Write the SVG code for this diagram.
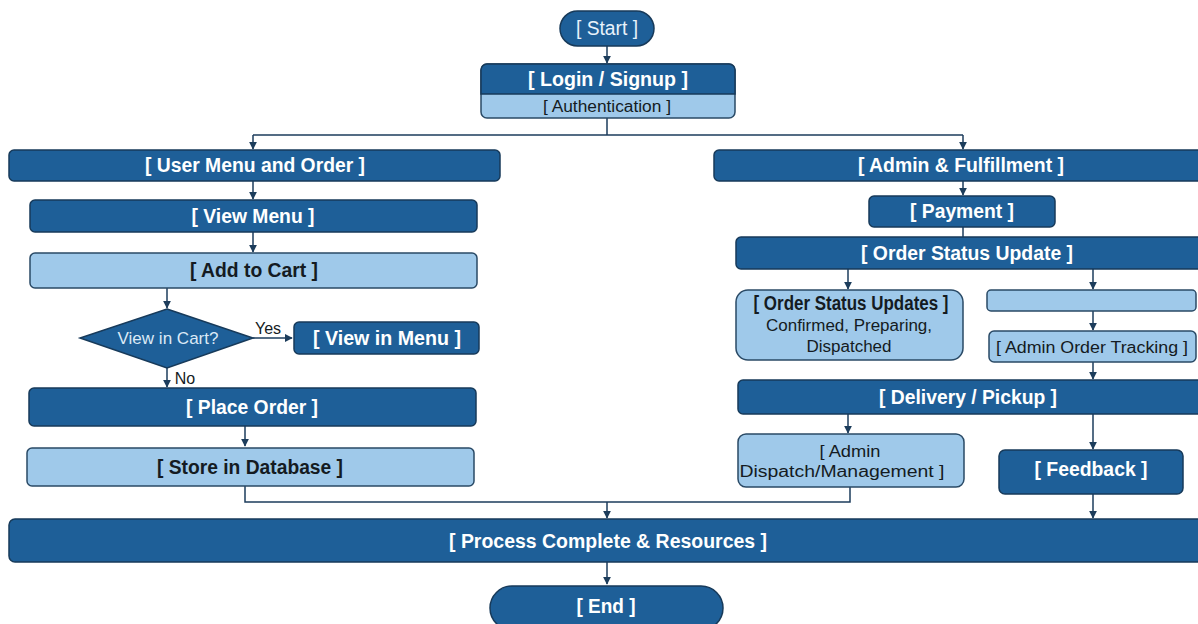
<svg xmlns="http://www.w3.org/2000/svg" width="1198" height="624" viewBox="0 0 1198 624">
<defs>
<style>
.d{fill:#1e5f98;stroke:#173a5a;stroke-width:1.5}
.l{fill:#9fc9ea;stroke:#2a4a66;stroke-width:1.5}
.t{font-family:"Liberation Sans",Arial,sans-serif;dominant-baseline:central;text-anchor:middle}
.w{fill:#ffffff;font-weight:bold;font-size:20px}
.k{fill:#141b22;font-weight:bold;font-size:20px}
.n{fill:#141b22;font-size:16px}
.e{fill:none;stroke:#1d3d5c;stroke-width:1.5}
.lb{font-family:"Liberation Sans",Arial,sans-serif;font-size:16px;fill:#141b22}
</style>
<marker id="a" viewBox="0 0 10 10" refX="9" refY="5" markerWidth="8" markerHeight="8" markerUnits="userSpaceOnUse" orient="auto">
<path d="M0,0 L10,5 L0,10 z" fill="#1d3d5c"/>
</marker>
</defs>
<rect width="1198" height="624" fill="#ffffff"/>
<g id="connectors">
<path class="e" d="M607,46 V63" marker-end="url(#a)"/>
<path class="e" d="M607,118 V135 M253,135 H963"/>
<path class="e" d="M253,135 V149" marker-end="url(#a)"/>
<path class="e" d="M963,135 V149" marker-end="url(#a)"/>
<path class="e" d="M253,181 V199" marker-end="url(#a)"/>
<path class="e" d="M253,232 V252" marker-end="url(#a)"/>
<path class="e" d="M167,288 V308" marker-end="url(#a)"/>
<path class="e" d="M253,338 H292" marker-end="url(#a)"/>
<path class="e" d="M167,368 V387" marker-end="url(#a)"/>
<path class="e" d="M245,426 V446" marker-end="url(#a)"/>
<path class="e" d="M245,486 V502 H850 V487"/>
<path class="e" d="M607,502 V518" marker-end="url(#a)"/>
<path class="e" d="M963,181 V195" marker-end="url(#a)"/>
<path class="e" d="M963,227 V237"/>
<path class="e" d="M848,269 V289" marker-end="url(#a)"/>
<path class="e" d="M1093,269 V289" marker-end="url(#a)"/>
<path class="e" d="M1093,311 V330" marker-end="url(#a)"/>
<path class="e" d="M1093,362 V379" marker-end="url(#a)"/>
<path class="e" d="M848,414 V433" marker-end="url(#a)"/>
<path class="e" d="M1093,414 V449" marker-end="url(#a)"/>
<path class="e" d="M1093,494 V518" marker-end="url(#a)"/>
<path class="e" d="M607,562 V584" marker-end="url(#a)"/>
<text class="lb" x="268" y="328" text-anchor="middle" dominant-baseline="central">Yes</text>
<text class="lb" x="185" y="378" text-anchor="middle" dominant-baseline="central">No</text>
</g>
<g id="start">
<rect class="d" x="560" y="11" width="94" height="35" rx="17.5"/>
<text class="t" x="607" y="28" fill="#e8f2fb" font-size="20" textLength="62" lengthAdjust="spacingAndGlyphs">[ Start ]</text>
</g>
<g id="login">
<rect class="l" x="481" y="64" width="254" height="54" rx="6"/>
<path class="d" d="M481,94 V70 a6,6 0 0 1 6,-6 H729 a6,6 0 0 1 6,6 V94 Z"/>
<text class="t w" x="608" y="79" font-size="21" textLength="160" lengthAdjust="spacingAndGlyphs">[ Login / Signup ]</text>
<text class="t n" x="607" y="106" textLength="128" lengthAdjust="spacingAndGlyphs">[ Authentication ]</text>
</g>
<g id="user-menu">
<rect class="d" x="9" y="150" width="491" height="31" rx="5"/>
<text class="t w" x="255" y="165" textLength="220" lengthAdjust="spacingAndGlyphs">[ User Menu and Order ]</text>
</g>
<g id="view-menu">
<rect class="d" x="30" y="200" width="447" height="32" rx="5"/>
<text class="t w" x="253" y="216" textLength="123" lengthAdjust="spacingAndGlyphs">[ View Menu ]</text>
</g>
<g id="add-cart">
<rect class="l" x="30" y="253" width="447" height="35" rx="5"/>
<text class="t k" x="254" y="270" textLength="128" lengthAdjust="spacingAndGlyphs">[ Add to Cart ]</text>
</g>
<g id="decision">
<polygon class="d" points="167,309 253,338 167,368 80,338"/>
<text class="t" x="168" y="338" fill="#dbe9f6" font-size="17" textLength="101" lengthAdjust="spacingAndGlyphs">View in Cart?</text>
</g>
<g id="view-in-menu">
<rect class="d" x="294" y="322" width="185" height="32" rx="5"/>
<text class="t w" x="387" y="338" textLength="148" lengthAdjust="spacingAndGlyphs">[ View in Menu ]</text>
</g>
<g id="place-order">
<rect class="d" x="29" y="388" width="447" height="38" rx="5"/>
<text class="t w" x="252" y="407" textLength="132" lengthAdjust="spacingAndGlyphs">[ Place Order ]</text>
</g>
<g id="store-db">
<rect class="l" x="27" y="448" width="447" height="38" rx="5"/>
<text class="t k" x="250" y="467" textLength="186" lengthAdjust="spacingAndGlyphs">[ Store in Database ]</text>
</g>
<g id="admin">
<rect class="d" x="714" y="150" width="490" height="31" rx="5"/>
<text class="t w" x="961" y="165" textLength="206" lengthAdjust="spacingAndGlyphs">[ Admin &amp; Fulfillment ]</text>
</g>
<g id="payment">
<rect class="d" x="869" y="196" width="186" height="31" rx="5"/>
<text class="t w" x="962" y="211" textLength="104" lengthAdjust="spacingAndGlyphs">[ Payment ]</text>
</g>
<g id="order-status-update">
<rect class="d" x="736" y="237" width="468" height="32" rx="5"/>
<text class="t w" x="967" y="253" textLength="212" lengthAdjust="spacingAndGlyphs">[ Order Status Update ]</text>
</g>
<g id="order-status-updates">
<rect class="l" x="736" y="290" width="227" height="70" rx="12"/>
<text class="t k" x="851" y="303" font-size="18" textLength="195" lengthAdjust="spacingAndGlyphs">[ Order Status Updates ]</text>
<text class="t n" x="849" y="325" font-size="17" textLength="166" lengthAdjust="spacingAndGlyphs">Confirmed, Preparing,</text>
<text class="t n" x="849" y="346" font-size="17" textLength="85" lengthAdjust="spacingAndGlyphs">Dispatched</text>
</g>
<g id="empty-box">
<rect class="l" x="987" y="290" width="209" height="21" rx="4"/>
</g>
<g id="admin-tracking">
<rect class="l" x="989" y="331" width="207" height="31" rx="5"/>
<text class="t n" x="1092" y="347" font-size="17" textLength="192" lengthAdjust="spacingAndGlyphs">[ Admin Order Tracking ]</text>
</g>
<g id="delivery">
<rect class="d" x="738" y="380" width="466" height="34" rx="5"/>
<text class="t w" x="968" y="397" textLength="178" lengthAdjust="spacingAndGlyphs">[ Delivery / Pickup ]</text>
</g>
<g id="admin-dispatch">
<rect class="l" x="738" y="434" width="226" height="53" rx="8"/>
<text class="t n" x="850" y="451" font-size="17" textLength="61" lengthAdjust="spacingAndGlyphs">[ Admin</text>
<text class="t n" x="842" y="471" font-size="17" textLength="205" lengthAdjust="spacingAndGlyphs">Dispatch/Management ]</text>
</g>
<g id="feedback">
<rect class="d" x="999" y="450" width="184" height="44" rx="6"/>
<text class="t w" x="1091" y="469" textLength="113" lengthAdjust="spacingAndGlyphs">[ Feedback ]</text>
</g>
<g id="process-complete">
<rect class="d" x="9" y="519" width="1195" height="43" rx="6"/>
<text class="t w" x="608" y="541" textLength="318" lengthAdjust="spacingAndGlyphs">[ Process Complete &amp; Resources ]</text>
</g>
<g id="end">
<rect class="d" x="490" y="586" width="233" height="44" rx="22"/>
<text class="t w" x="606" y="606" textLength="59" lengthAdjust="spacingAndGlyphs">[ End ]</text>
</g>
</svg>
